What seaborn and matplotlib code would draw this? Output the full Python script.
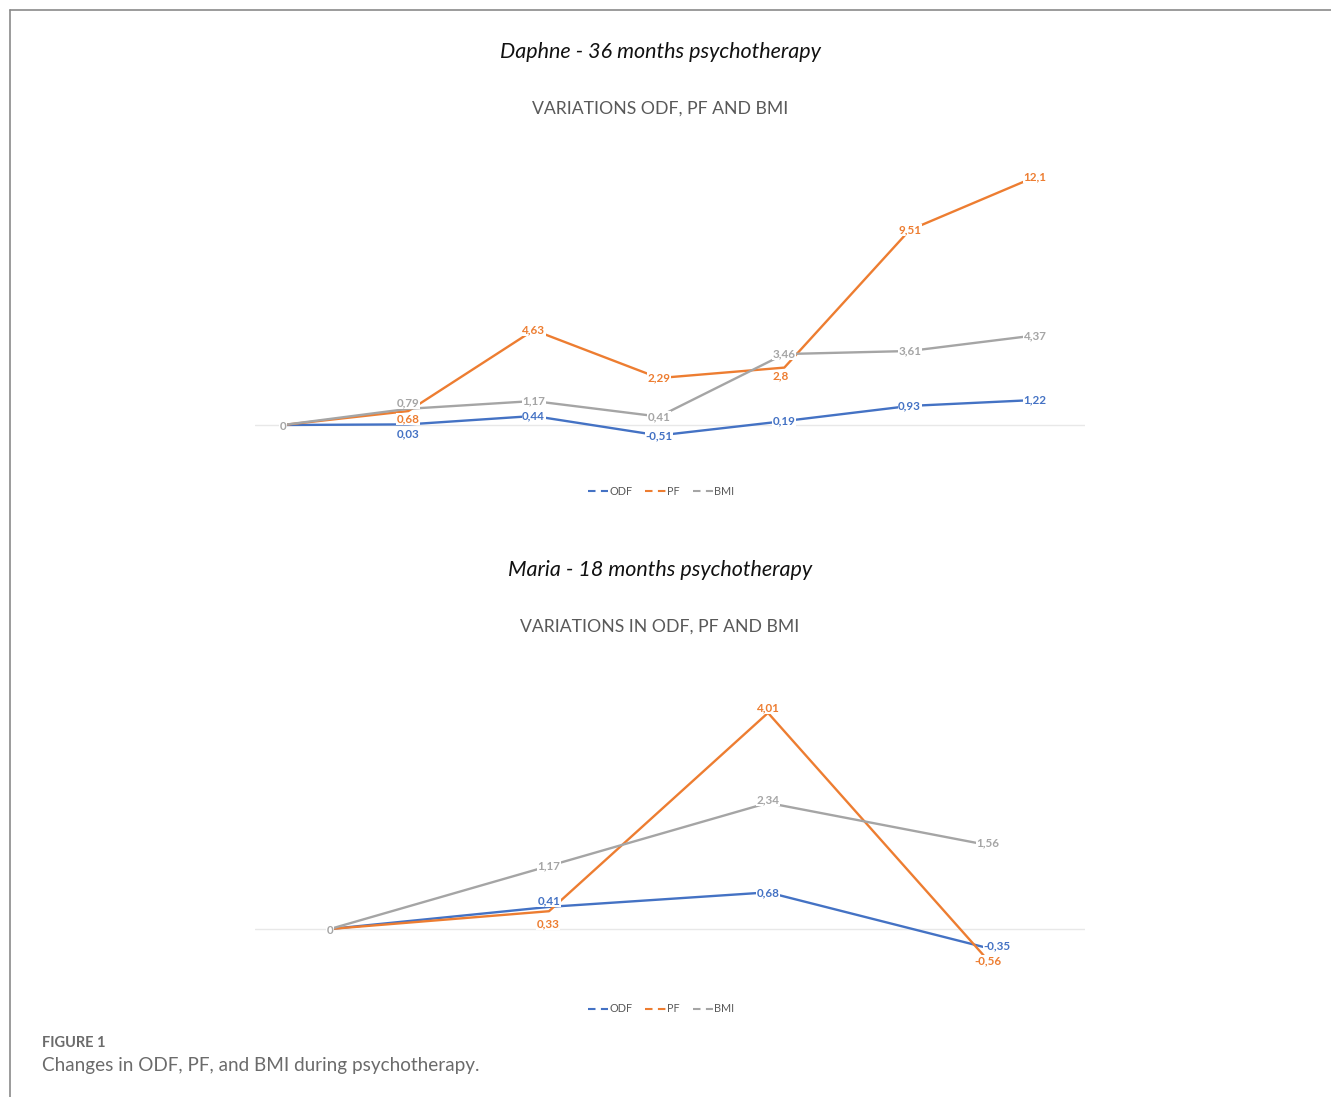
import matplotlib
matplotlib.use("Agg")
import matplotlib.pyplot as plt
from matplotlib.lines import Line2D
import seaborn as sns
import pandas as pd

# ---- data -------------------------------------------------------------
series_names = ["ODF", "PF", "BMI"]
series_colors = ["#4472C4", "#ED7D31", "#A5A5A5"]

daphne_steps = [0, 1, 2, 3, 4, 5, 6]
daphne_odf = [0, 0.03, 0.44, -0.51, 0.19, 0.93, 1.22]
daphne_pf = [0, 0.68, 4.63, 2.29, 2.8, 9.51, 12.1]
daphne_bmi = [0, 0.79, 1.17, 0.41, 3.46, 3.61, 4.37]

maria_steps = [0, 1, 2, 3]
maria_odf = [0, 0.41, 0.68, -0.35]
maria_pf = [0, 0.33, 4.01, -0.56]
maria_bmi = [0, 1.17, 2.34, 1.56]

daphne_title = "Daphne - 36 months psychotherapy"
daphne_subtitle = "VARIATIONS ODF, PF AND BMI"
maria_title = "Maria - 18 months psychotherapy"
maria_subtitle = "VARIATIONS IN ODF, PF AND BMI"
caption_head = "FIGURE 1"
caption_text = "Changes in ODF, PF, and BMI during psychotherapy."

# ---- style ------------------------------------------------------------
sns.set_theme(style="white")
plt.rcParams["font.family"] = ["Lato", "DejaVu Sans"]

W, H = 1331, 1097
fig = plt.figure(figsize=(W / 100, H / 100), dpi=100)
fig.patch.set_facecolor("white")


def fx(px):
    return px / W


def fy(py):
    return 1 - py / H


def fmt(v):
    return f"{v:g}".replace(".", ",")


def long_frame(steps, odf, pf, bmi):
    rows = []
    for name, vals in zip(series_names, [odf, pf, bmi]):
        for s, v in zip(steps, vals):
            rows.append({"step": s, "value": v, "series": name})
    return pd.DataFrame(rows)


def draw_panel(rect, df, xlim, ylim, offsets):
    ax = fig.add_axes(rect)
    ax.axhline(0, color="#e8e8e8", lw=1.0, zorder=0)
    sns.lineplot(data=df, x="step", y="value", hue="series",
                 hue_order=series_names, palette=series_colors,
                 linewidth=1.7, legend=False, ax=ax, zorder=2)
    for name, color in zip(series_names, series_colors):
        sub = df[df["series"] == name]
        for s, v in zip(sub["step"], sub["value"]):
            dx, dy = offsets.get((name, s), (0, 0))
            ax.annotate(fmt(v), (s, v), xytext=(dx * 0.72, -dy * 0.72),
                        textcoords="offset points", ha="center", va="center",
                        fontsize=8.4, fontweight="bold", color=color,
                        bbox=dict(boxstyle="square,pad=0.05", fc="white",
                                  ec="none"),
                        zorder=5)
    ax.set_xlim(*xlim)
    ax.set_ylim(*ylim)
    ax.set_axis_off()
    return ax


def legend_at(py):
    handles = [Line2D([], [], color=c, lw=1.5, linestyle=(0, (3.6, 2.6)))
               for c in series_colors]
    fig.legend(handles, series_names, loc="center",
               bbox_to_anchor=(fx(661), fy(py)), ncol=3, frameon=False,
               fontsize=7.8, labelcolor="#595959", handlelength=1.9,
               handletextpad=0.1, columnspacing=1.2)


# ---- Daphne panel -----------------------------------------------------
df_d = long_frame(daphne_steps, daphne_odf, daphne_pf, daphne_bmi)
off_d = {("ODF", 1): (0, 9), ("PF", 1): (0, 8), ("BMI", 1): (0, -6),
         ("PF", 4): (-4, 8), ("ODF", 0): (0, 1), ("PF", 0): (0, 1),
         ("BMI", 0): (0, 1)}
draw_panel([fx(255), fy(460), (1085 - 255) / W, 300 / H], df_d,
           (-28 / 125.33, 6 + 50 / 125.33), (-35 / 20.5, 265 / 20.5), off_d)

fig.text(fx(660), fy(52), daphne_title, ha="center", va="center",
         fontsize=15.5, style="italic", color="#111111")
fig.text(fx(660), fy(109), daphne_subtitle, ha="center", va="center",
         fontsize=12.7, color="#595959")
legend_at(491)

# ---- Maria panel ------------------------------------------------------
df_m = long_frame(maria_steps, maria_odf, maria_pf, maria_bmi)
off_m = {("ODF", 1): (0, -6), ("PF", 1): (-1, 13), ("PF", 2): (0, -5),
         ("BMI", 2): (0, -3), ("BMI", 3): (1, -2), ("ODF", 3): (10, -2),
         ("PF", 3): (1, 2), ("ODF", 0): (0, 1), ("PF", 0): (0, 1),
         ("BMI", 0): (0, 1)}
draw_panel([fx(255), fy(980), (1085 - 255) / W, 300 / H], df_m,
           (-75 / 219, 3 + 98 / 219), (-51 / 53.9, 249 / 53.9), off_m)

fig.text(fx(660), fy(570), maria_title, ha="center", va="center",
         fontsize=15.5, style="italic", color="#111111")
fig.text(fx(660), fy(627), maria_subtitle, ha="center", va="center",
         fontsize=12.7, color="#595959")
legend_at(1009)

# ---- caption and frame ------------------------------------------------
fig.text(fx(42), fy(1043), caption_head, ha="left", va="center",
         fontsize=10.5, fontweight="bold", color="#6b6b6b")
fig.text(fx(42), fy(1066), caption_text, ha="left", va="center",
         fontsize=13.6, color="#6b6b6b")

fig.add_artist(Line2D([fx(10), fx(10)], [0, fy(10)], color="#8a8a8a",
                      lw=1.2, transform=fig.transFigure))
fig.add_artist(Line2D([fx(10), 1], [fy(10), fy(10)], color="#8a8a8a",
                      lw=1.2, transform=fig.transFigure))

fig.savefig("out.png", dpi=100, facecolor="white")
